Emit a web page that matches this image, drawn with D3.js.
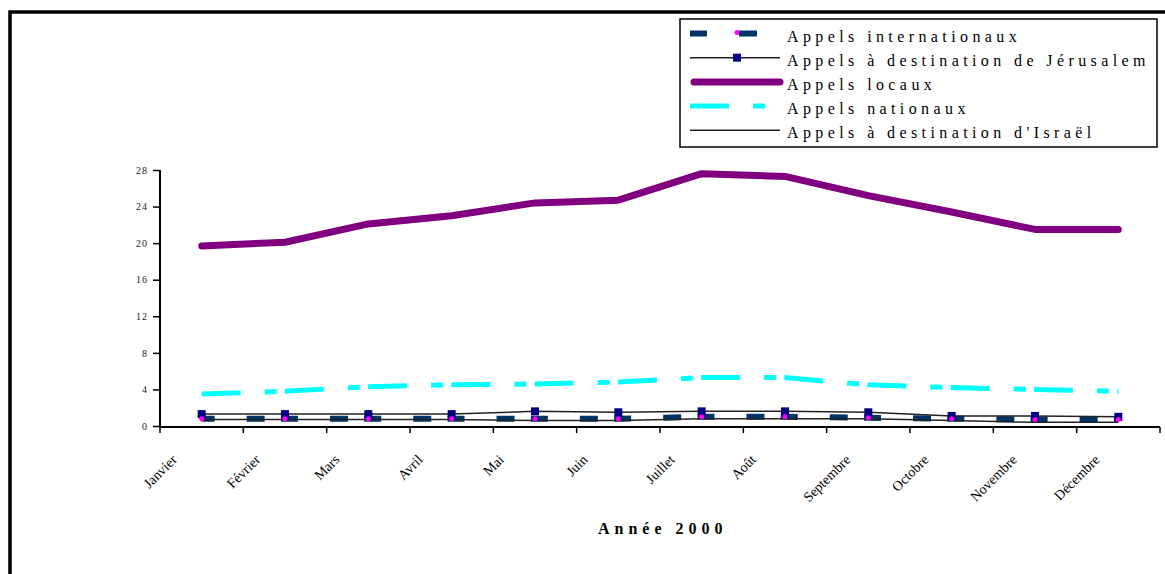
<!DOCTYPE html>
<html>
<head>
<meta charset="utf-8">
<script src="https://cdn.jsdelivr.net/npm/d3@7"></script>
<style>
  body { margin: 0; background: #fff; }
  svg { display: block; font-family: "Liberation Serif", "Times New Roman", serif; }
</style>
</head>
<body>
<div id="chart"></div>
<script>
// Categories and tick labels
const months = ["Janvier", "Février", "Mars", "Avril", "Mai", "Juin", "Juillet", "Août", "Septembre", "Octobre", "Novembre", "Décembre"];
const yTicks = [0, 4, 8, 12, 16, 20, 24, 28];

// Series values
const internationaux = [0.8, 0.8, 0.8, 0.8, 0.8, 0.8, 1.0, 1.0, 0.9, 0.8, 0.7, 0.7];
const jerusalem = [1.3, 1.3, 1.3, 1.3, 1.6, 1.5, 1.6, 1.6, 1.5, 1.1, 1.1, 1.0];
const locaux = [19.7, 20.1, 22.1, 23.0, 24.4, 24.7, 27.6, 27.3, 25.2, 23.4, 21.5, 21.5];
const nationaux = [3.5, 3.8, 4.3, 4.5, 4.6, 4.8, 5.3, 5.3, 4.5, 4.2, 4.0, 3.8];
const israel = [0.7, 0.7, 0.7, 0.7, 0.6, 0.6, 0.8, 0.8, 0.8, 0.6, 0.4, 0.4];

const seriesNames = ["Appels internationaux", "Appels à destination de Jérusalem", "Appels locaux", "Appels nationaux", "Appels à destination d'Israël"];
const xTitle = "Année 2000";

// Series table (order = legend order = drawing order)
const series = [
    { name: seriesNames[0], values: internationaux, color: "#003366", width: 6, dash: "17,32,18,16.3", offset: 4, cap: "butt", legendEnd: 770 },
    { name: seriesNames[1], values: jerusalem, color: "#222", width: 1.5, dash: null, cap: "butt", square: true },
    { name: seriesNames[2], values: locaux, color: "#800080", width: 7, dash: null, cap: "round" },
    { name: seriesNames[3], values: nationaux, color: "#00ffff", width: 5, dash: "39,24,12,8.3", offset: 0, cap: "butt", legendEnd: 768 },
    { name: seriesNames[4], values: israel, color: "#222", width: 1.5, dash: null, cap: "butt" }
];

const width = 1165, height = 574;

const svg = d3.select("#chart")
    .append("svg")
    .attr("width", width)
    .attr("height", height);

svg.append("rect").attr("width", width).attr("height", height).attr("fill", "#fff");

// outer frame (only top and left visible)
svg.append("path")
    .attr("d", `M10,${height + 5} V12 H${width + 5}`)
    .attr("fill", "none")
    .attr("stroke", "#000")
    .attr("stroke-width", 3.5);

// Scales
const x = d3.scaleBand().domain(months).range([160, 1160]);
const y = d3.scaleLinear().domain([0, 28]).range([426, 170]);
const cx = i => x(months[i]) + x.bandwidth() / 2;

// y axis
const yAxis = svg.append("g")
    .attr("transform", "translate(160,0)")
    .call(d3.axisLeft(y).tickValues(yTicks).tickSize(7).tickSizeOuter(0).tickPadding(5));
yAxis.select(".domain").attr("stroke-width", 2).attr("d", `M0,${y(28)}V${y(0) + 1}`);
yAxis.selectAll(".tick line").attr("stroke-width", 1.5);
yAxis.selectAll(".tick text")
    .attr("font-size", 10)
    .attr("letter-spacing", 1)
    .attr("fill", "#222")
    .attr("font-family", "Liberation Serif, serif");

// x axis
const xAxis = svg.append("g").attr("transform", `translate(0,${y(0) + 1})`);
xAxis.append("line")
    .attr("x1", x.range()[0]).attr("x2", x.range()[1])
    .attr("stroke", "#000").attr("stroke-width", 2);
xAxis.selectAll(".xtick")
    .data(months.map(m => x(m)).concat([x.range()[1]]))
    .enter().append("line")
    .attr("x1", d => d).attr("x2", d => d)
    .attr("y1", 0).attr("y2", 6)
    .attr("stroke", "#000").attr("stroke-width", 1.5);

xAxis.selectAll(".xlabel")
    .data(months)
    .enter().append("text")
    .attr("font-size", 14)
    .attr("text-anchor", "middle")
    .attr("fill", "#000")
    .text(d => d)
    .each(function (d) {
        const len = this.getComputedTextLength();
        const px = x(d);
        const py = 30 + len * 0.354;
        d3.select(this).attr("transform", `translate(${px},${py}) rotate(-45)`)
            .attr("dy", "0.35em");
    });

// x title
svg.append("text")
    .attr("x", 598)
    .attr("y", 534)
    .attr("font-size", 16)
    .attr("font-weight", "bold")
    .attr("letter-spacing", 5)
    .text(xTitle);

// Lines
const line = d3.line()
    .x((d, i) => cx(i))
    .y(d => y(d));

series.forEach(s => {
    svg.append("path")
        .datum(s.values)
        .attr("fill", "none")
        .attr("stroke", s.color)
        .attr("stroke-width", s.width)
        .attr("stroke-linecap", s.cap)
        .attr("stroke-linejoin", "round")
        .attr("stroke-dasharray", s.dash)
        .attr("stroke-dashoffset", s.offset || 0)
        .attr("d", line);
});

// Jérusalem markers
svg.selectAll(".sq")
    .data(jerusalem)
    .enter().append("rect")
    .attr("x", (d, i) => cx(i) - 4)
    .attr("y", d => y(d) - 4)
    .attr("width", 8)
    .attr("height", 8)
    .attr("fill", "#000080");

// Internationaux markers
svg.selectAll(".dot")
    .data(internationaux)
    .enter().append("circle")
    .attr("cx", (d, i) => cx(i))
    .attr("cy", d => y(d))
    .attr("r", 2.5)
    .attr("fill", "#ff00ff");

// Legend
const legend = svg.append("g");
legend.append("rect")
    .attr("x", 680).attr("y", 19)
    .attr("width", 477).attr("height", 128)
    .attr("fill", "#fff")
    .attr("stroke", "#000")
    .attr("stroke-width", 1.5);

series.forEach((s, i) => {
    const by = 41.5 + i * 24.2;
    const ly = by - 8;
    legend.append("line")
        .attr("x1", s.cap === "round" ? 694 : 690)
        .attr("x2", s.legendEnd || 780)
        .attr("y1", ly).attr("y2", ly)
        .attr("stroke", s.color)
        .attr("stroke-width", s.width)
        .attr("stroke-linecap", s.cap)
        .attr("stroke-dasharray", s.dash);
    if (s.square) {
        legend.append("rect")
            .attr("x", 733).attr("y", ly - 4)
            .attr("width", 8).attr("height", 8)
            .attr("fill", "#000080");
    }
    if (i === 0) {
        legend.append("circle")
            .attr("cx", 737).attr("cy", ly - 1)
            .attr("r", 2.5)
            .attr("fill", "#ff00ff");
    }
    legend.append("text")
        .attr("x", 787)
        .attr("y", by)
        .attr("font-size", 16)
        .attr("letter-spacing", 4.4)
        .text(s.name);
});
</script>
</body>
</html>
